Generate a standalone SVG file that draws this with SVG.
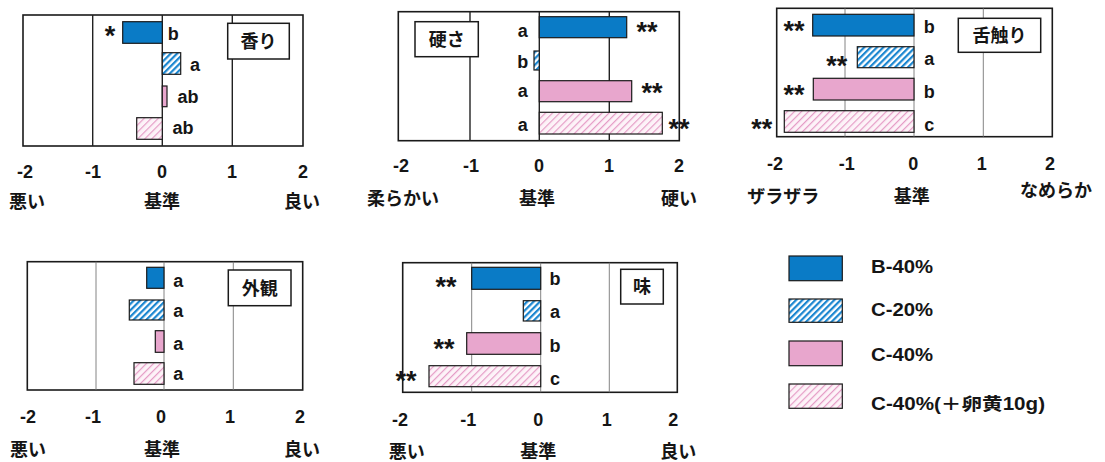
<svg xmlns="http://www.w3.org/2000/svg" width="1105" height="462" viewBox="0 0 1105 462">
<defs>
<pattern id="hb" patternUnits="userSpaceOnUse" width="4.5" height="4.5" patternTransform="rotate(45)">
<rect width="4.5" height="4.5" fill="#fff"/>
<rect x="0" y="0" width="2.2" height="4.5" fill="#1a86d0"/>
</pattern>
<pattern id="hp" patternUnits="userSpaceOnUse" width="5" height="5" patternTransform="rotate(45)">
<rect width="5" height="5" fill="#fdf3f8"/>
<rect x="0" y="0" width="1.2" height="5" fill="#e59cc6"/>
</pattern>
<style>
.frame{fill:#fff;stroke:#1a1a1a;stroke-width:1.6}
.gd{stroke:#222;stroke-width:1.4}
.gl{stroke:#777;stroke-width:0.9}
.b40{fill:#0a7bc6;stroke:#1a1a1a;stroke-width:1.2}
.c20{fill:url(#hb);stroke:#1a1a1a;stroke-width:1.2}
.c40{fill:#e8a6cd;stroke:#1a1a1a;stroke-width:1.2}
.cy{fill:url(#hp);stroke:#1a1a1a;stroke-width:1.2}
.tb{fill:#fff;stroke:#1a1a1a;stroke-width:1.5}
text{fill:#151515;font-weight:bold}
.l{font-family:"Liberation Sans","Noto Sans",sans-serif;font-size:18px;text-anchor:middle}
.t{font-family:"Liberation Sans","Noto Sans",sans-serif;font-size:18px;text-anchor:middle}
.a{font-family:"Liberation Sans","Noto Sans",sans-serif;font-size:27px;text-anchor:middle}
.j{font-family:"Liberation Sans","Noto Sans CJK JP",sans-serif;font-size:18px;text-anchor:middle}
.lg{font-family:"Liberation Sans","Noto Sans CJK JP",sans-serif;font-size:17.5px}
</style>
</defs>
<rect width="1105" height="462" fill="#fff"/>

<g id="chart-kaori">
<rect class="frame" x="23" y="15" width="280" height="131"/>
<line class="gd" x1="92.7" y1="15" x2="92.7" y2="146"/>
<line class="gd" x1="162.3" y1="15" x2="162.3" y2="146"/>
<line class="gd" x1="232.3" y1="15" x2="232.3" y2="146"/>
<rect class="tb" x="227.7" y="23.3" width="61.6" height="35.7"/>
<text class="j" x="258.5" y="47.5">香り</text>
<rect class="b40" x="122.7" y="21.7" width="39.6" height="21.6"/>
<rect class="c20" x="162.3" y="52.7" width="18.4" height="21.6"/>
<rect class="c40" x="162.3" y="86" width="4.7" height="20.7"/>
<rect class="cy" x="136.7" y="117.7" width="25.6" height="21.6"/>
<text class="a" x="110" y="45">*</text>
<text class="l" x="173.3" y="39.5">b</text>
<text class="l" x="195" y="70.5">a</text>
<text class="l" x="188" y="102.5">ab</text>
<text class="l" x="183" y="134">ab</text>
<text class="t" x="25" y="178">-2</text>
<text class="t" x="93" y="178">-1</text>
<text class="t" x="162" y="178">0</text>
<text class="t" x="232" y="178">1</text>
<text class="t" x="303" y="178">2</text>
<text class="j" x="27" y="208">悪い</text>
<text class="j" x="162" y="208">基準</text>
<text class="j" x="302" y="208">良い</text>
</g>

<g id="chart-katasa">
<rect class="frame" x="398.3" y="11.7" width="281" height="129"/>
<line class="gd" x1="470" y1="11.7" x2="470" y2="140.7"/>
<line class="gd" x1="539.3" y1="11.7" x2="539.3" y2="140.7"/>
<line class="gd" x1="609.3" y1="11.7" x2="609.3" y2="140.7"/>
<rect class="tb" x="415" y="21.7" width="63.3" height="35"/>
<text class="j" x="446.7" y="45.5">硬さ</text>
<rect class="b40" x="539.3" y="16.7" width="87.4" height="21"/>
<rect class="c20" x="534" y="51" width="5.3" height="19"/>
<rect class="c40" x="539.3" y="80.7" width="92.4" height="21"/>
<rect class="cy" x="539.3" y="112.3" width="123" height="21.7"/>
<text class="l" x="522.7" y="37">a</text>
<text class="l" x="522.7" y="68">b</text>
<text class="l" x="522.7" y="96.5">a</text>
<text class="l" x="522.7" y="130.5">a</text>
<text class="a" x="647" y="41">**</text>
<text class="a" x="652" y="102">**</text>
<text class="a" x="679" y="138">**</text>
<text class="t" x="401" y="172">-2</text>
<text class="t" x="471" y="172">-1</text>
<text class="t" x="539" y="172">0</text>
<text class="t" x="609" y="172">1</text>
<text class="t" x="679" y="172">2</text>
<text class="j" x="403" y="205">柔らかい</text>
<text class="j" x="537" y="205">基準</text>
<text class="j" x="679" y="205">硬い</text>
</g>

<g id="chart-shitazawari">
<rect class="frame" x="776.7" y="8.3" width="275.6" height="128.4"/>
<line class="gl" x1="845" y1="8.3" x2="845" y2="136.7"/>
<line class="gl" x1="914" y1="8.3" x2="914" y2="136.7"/>
<line class="gl" x1="983.3" y1="8.3" x2="983.3" y2="136.7"/>
<rect class="tb" x="958.3" y="18.3" width="82.4" height="34"/>
<text class="j" x="999.5" y="41.5">舌触り</text>
<rect class="b40" x="812.7" y="14.3" width="101.3" height="21.7"/>
<rect class="c20" x="857.3" y="46.7" width="56.7" height="21"/>
<rect class="c40" x="813.3" y="78.3" width="100.7" height="21.7"/>
<rect class="cy" x="784.3" y="110.7" width="129.7" height="21.6"/>
<text class="l" x="929.3" y="32.5">b</text>
<text class="l" x="929.3" y="65">a</text>
<text class="l" x="929.3" y="97.5">b</text>
<text class="l" x="929.3" y="131">c</text>
<text class="a" x="794" y="39.7">**</text>
<text class="a" x="836.7" y="74.7">**</text>
<text class="a" x="794" y="103.7">**</text>
<text class="a" x="761.7" y="138">**</text>
<text class="t" x="775" y="169.5">-2</text>
<text class="t" x="846.7" y="169.5">-1</text>
<text class="t" x="913.3" y="169.5">0</text>
<text class="t" x="981.7" y="169.5">1</text>
<text class="t" x="1050" y="169.5">2</text>
<text class="j" x="783.3" y="203">ザラザラ</text>
<text class="j" x="911.7" y="203">基準</text>
<text class="j" x="1056" y="196.5">なめらか</text>
</g>

<g id="chart-gaikan">
<rect class="frame" x="27.3" y="261.7" width="275.4" height="128.3"/>
<line class="gl" x1="96" y1="261.7" x2="96" y2="390"/>
<line class="gl" x1="164" y1="261.7" x2="164" y2="390"/>
<line class="gl" x1="233.3" y1="261.7" x2="233.3" y2="390"/>
<rect class="tb" x="228.3" y="270" width="62.7" height="35.7"/>
<text class="j" x="259.7" y="294.5">外観</text>
<rect class="b40" x="146.7" y="267.3" width="17.3" height="21"/>
<rect class="c20" x="129.3" y="300" width="34.7" height="20"/>
<rect class="c40" x="155.3" y="330.7" width="8.7" height="21.6"/>
<rect class="cy" x="134" y="362.7" width="30" height="21.6"/>
<text class="l" x="178.3" y="286.5">a</text>
<text class="l" x="178.3" y="316.5">a</text>
<text class="l" x="178.3" y="350">a</text>
<text class="l" x="178.3" y="380">a</text>
<text class="t" x="28" y="423">-2</text>
<text class="t" x="93" y="423">-1</text>
<text class="t" x="161" y="423">0</text>
<text class="t" x="230" y="423">1</text>
<text class="t" x="300" y="423">2</text>
<text class="j" x="28" y="455.5">悪い</text>
<text class="j" x="162" y="455.5">基準</text>
<text class="j" x="302" y="455.5">良い</text>
</g>

<g id="chart-aji">
<rect class="frame" x="402.7" y="262.7" width="274.6" height="129.6"/>
<line class="gl" x1="471.7" y1="262.7" x2="471.7" y2="392.3"/>
<line class="gl" x1="540.7" y1="262.7" x2="540.7" y2="392.3"/>
<line class="gl" x1="609.3" y1="262.7" x2="609.3" y2="392.3"/>
<rect class="tb" x="620.7" y="269.3" width="42.6" height="34.7"/>
<text class="j" x="642" y="293">味</text>
<rect class="b40" x="471.7" y="267.3" width="69" height="22"/>
<rect class="c20" x="523.3" y="300.7" width="17.4" height="20.3"/>
<rect class="c40" x="466.7" y="332.7" width="74" height="21.6"/>
<rect class="cy" x="429" y="365.7" width="111.7" height="21"/>
<text class="l" x="555" y="285">b</text>
<text class="l" x="555" y="317.5">a</text>
<text class="l" x="555" y="352">b</text>
<text class="l" x="555" y="385">c</text>
<text class="a" x="446" y="296.3">**</text>
<text class="a" x="444" y="358">**</text>
<text class="a" x="406" y="389.7">**</text>
<text class="t" x="400" y="426">-2</text>
<text class="t" x="468.3" y="426">-1</text>
<text class="t" x="538.3" y="426">0</text>
<text class="t" x="606.7" y="426">1</text>
<text class="t" x="673.3" y="426">2</text>
<text class="j" x="406.7" y="458">悪い</text>
<text class="j" x="538.3" y="458">基準</text>
<text class="j" x="678.3" y="458">良い</text>
</g>

<g id="legend">
<rect class="b40" x="789" y="256" width="53.3" height="24.7"/>
<rect class="c20" x="789" y="299" width="53.3" height="23.3"/>
<rect class="c40" x="789" y="341" width="53.3" height="24.7"/>
<rect class="cy" x="789" y="384" width="53.3" height="24.3"/>
<text class="lg" x="871" y="273" textLength="62" lengthAdjust="spacingAndGlyphs">B-40%</text>
<text class="lg" x="871" y="315.5" textLength="62" lengthAdjust="spacingAndGlyphs">C-20%</text>
<text class="lg" x="871" y="361.3" textLength="62" lengthAdjust="spacingAndGlyphs">C-40%</text>
<text class="lg" x="871" y="409.5" textLength="174" lengthAdjust="spacingAndGlyphs">C-40%(＋卵黄10g)</text>
</g>
</svg>
